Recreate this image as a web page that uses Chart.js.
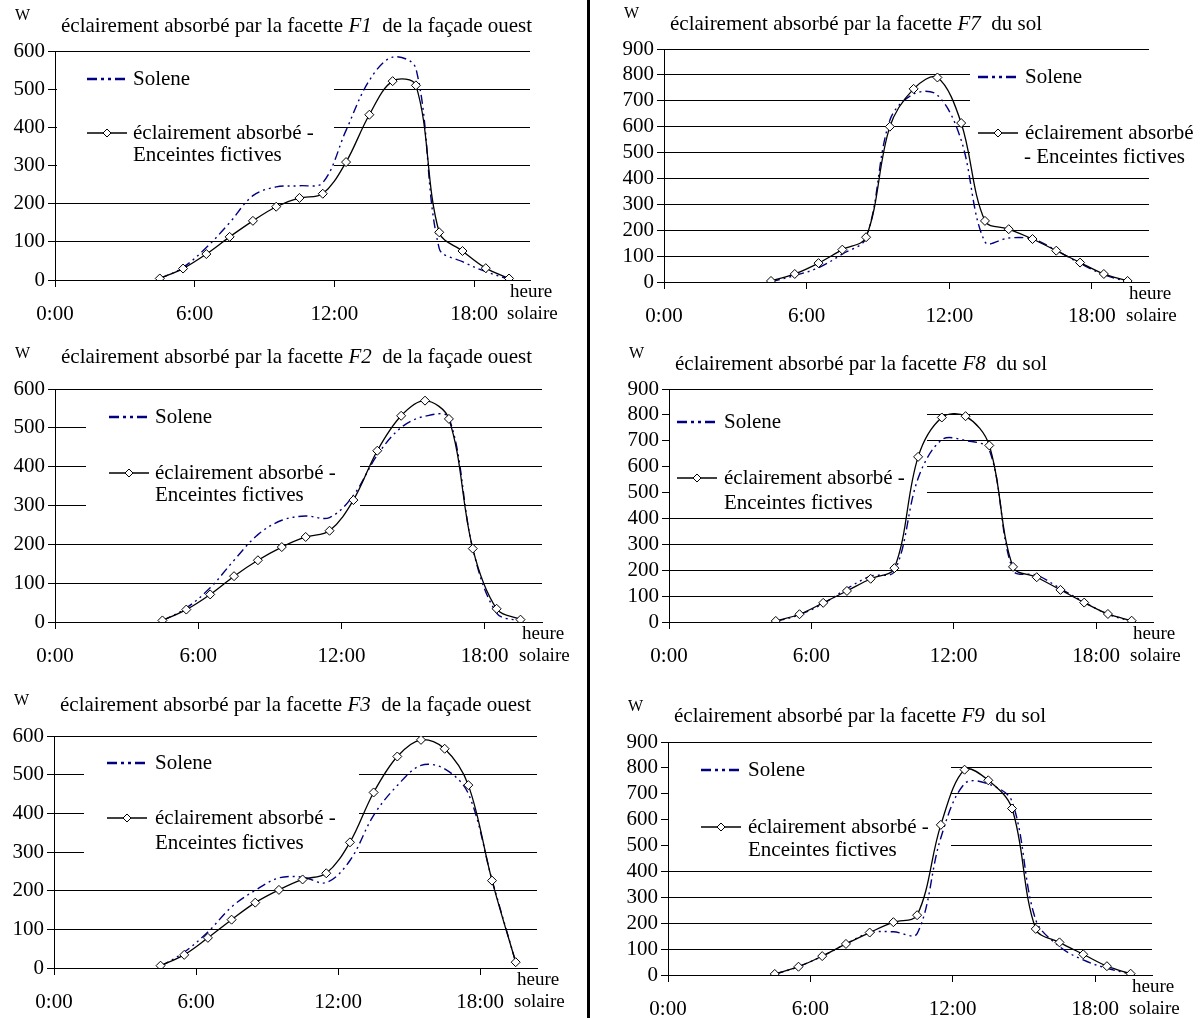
<!DOCTYPE html>
<html>
<head>
<meta charset="utf-8">
<script src="https://cdn.jsdelivr.net/npm/chart.js@4.4.0/dist/chart.umd.min.js"></script>
<style>
  body { margin: 0; background: #fff; width: 1204px; height: 1018px; overflow: hidden; position: relative; }
  canvas { position: absolute; }
  #separateur { position: absolute; left: 587px; top: 0; width: 3px; height: 1018px; background: #000; }
</style>
</head>
<body>
<canvas id="c1"></canvas>
<canvas id="c2"></canvas>
<canvas id="c3"></canvas>
<canvas id="c7"></canvas>
<canvas id="c8"></canvas>
<canvas id="c9"></canvas>
<div id="separateur"></div>
<script>
// heures solaires des points de calcul
const heures = [4.5, 5.5, 6.5, 7.5, 8.5, 9.5, 10.5, 11.5, 12.5, 13.5, 14.5, 15.5, 16.5, 17.5, 18.5, 19.5];
const xTicks = [0, 6, 12, 18];
const xTickLabels = ['0:00', '6:00', '12:00', '18:00'];

// facade ouest
const f1Enceintes = [4, 30, 68, 113, 155, 192, 215, 226, 309, 433, 521, 510, 125, 76, 31, 4];
const f1Solene    = [3, 33, 85, 150, 221, 244, 247, 255, 392, 523, 584, 554, 83, 48, 22, 2];
const f2Enceintes = [4, 32, 71, 118, 159, 193, 219, 235, 314, 441, 531, 570, 523, 189, 34, 6];
const f2Solene    = [3, 36, 88, 159, 225, 262, 273, 269, 326, 430, 501, 530, 526, 189, 23, 2];
const f3Enceintes = [6, 34, 78, 125, 169, 202, 229, 245, 325, 454, 547, 590, 567, 473, 226, 15];
const f3Solene    = [4, 41, 93, 158, 201, 233, 235, 221, 278, 395, 472, 524, 515, 451, 228, 15];

// sol
const f7Enceintes = [4, 31, 73, 125, 173, 600, 746, 790, 614, 236, 204, 166, 121, 75, 31, 4];
const f7Solene    = [1, 25, 55, 108, 170, 625, 726, 722, 548, 155, 170, 166, 122, 72, 28, 1];
const f8Enceintes = [4, 30, 74, 120, 167, 208, 638, 790, 795, 682, 213, 173, 124, 75, 31, 5];
const f8Solene    = [2, 28, 71, 129, 177, 195, 555, 704, 701, 665, 200, 181, 129, 77, 30, 2];
const f9Enceintes = [4, 32, 73, 120, 164, 204, 231, 580, 793, 752, 643, 178, 126, 80, 34, 5];
const f9Solene    = [3, 32, 73, 120, 163, 167, 160, 530, 739, 738, 670, 213, 110, 58, 26, 4];

const SERIF = '"Liberation Serif", "Times New Roman", serif';
const BLEU = '#000080';
const TIRET = [9, 4, 2, 4, 2, 4];

// mise en page (coordonnees page)
const panels = [
  { id: 'c1', left: 0, top: 0, w: 586, h: 338, facette: 'F1', suite: '  de la façade ouest', ymax: 600,
    enceintes: f1Enceintes, solene: f1Solene,
    axisX: 55, rightX: 530, topY: 51, zeroY: 280, titleDy: -25,
    box: [57, 62, 334, 176], sx: 87, tx: 133, ly: [79, 133, 155],
    labels: ['éclairement absorbé -', 'Enceintes fictives'], l2x: 133 },
  { id: 'c2', left: 0, top: 338, w: 586, h: 345, facette: 'F2', suite: '  de la façade ouest', ymax: 600,
    enceintes: f2Enceintes, solene: f2Solene,
    axisX: 55, rightX: 542, topY: 389, zeroY: 622, titleDy: -32,
    box: [86, 400, 360, 528], sx: 109, tx: 155, ly: [417, 473, 495],
    labels: ['éclairement absorbé -', 'Enceintes fictives'], l2x: 155 },
  { id: 'c3', left: 0, top: 683, w: 586, h: 335, facette: 'F3', suite: '  de la façade ouest', ymax: 600,
    enceintes: f3Enceintes, solene: f3Solene,
    axisX: 54, rightX: 537, topY: 736, zeroY: 968, titleDy: -31,
    box: [84, 752, 359, 870], sx: 107, tx: 155, ly: [763, 818, 843],
    labels: ['éclairement absorbé -', 'Enceintes fictives'], l2x: 155 },
  { id: 'c7', left: 592, top: 0, w: 612, h: 338, facette: 'F7', suite: '  du sol', ymax: 900,
    enceintes: f7Enceintes, solene: f7Solene,
    axisX: 664, rightX: 1149, topY: 49, zeroY: 282, titleDy: -25,
    box: [970, 62, 1204, 168], sx: 978, tx: 1025, ly: [77, 133, 157],
    labels: ['éclairement absorbé', '- Enceintes fictives'], l2x: 1024 },
  { id: 'c8', left: 592, top: 338, w: 612, h: 345, facette: 'F8', suite: '  du sol', ymax: 900,
    enceintes: f8Enceintes, solene: f8Solene,
    axisX: 669, rightX: 1153, topY: 389, zeroY: 622, titleDy: -25,
    box: [670, 402, 927, 508], sx: 677, tx: 724, ly: [422, 478, 503],
    labels: ['éclairement absorbé -', 'Enceintes fictives'], l2x: 724 },
  { id: 'c9', left: 592, top: 683, w: 612, h: 335, facette: 'F9', suite: '  du sol', ymax: 900,
    enceintes: f9Enceintes, solene: f9Solene,
    axisX: 668, rightX: 1152, topY: 742, zeroY: 975, titleDy: -26,
    box: [669, 755, 951, 858], sx: 701, tx: 748, ly: [770, 827, 850],
    labels: ['éclairement absorbé -', 'Enceintes fictives'], l2x: 748 }
];

function habillage(p) {
  const X = v => v - p.left;
  const Y = v => v - p.top;
  return {
    id: 'habillage_' + p.id,
    beforeDatasetsDraw(chart) {
      const ctx = chart.ctx;
      ctx.save();
      // fond blanc de la legende (coupe le quadrillage)
      ctx.fillStyle = '#fff';
      ctx.fillRect(X(p.box[0]), Y(p.box[1]), p.box[2] - p.box[0], p.box[3] - p.box[1]);
      ctx.font = '21px ' + SERIF;
      ctx.fillStyle = '#000';
      ctx.textBaseline = 'middle';
      // Solene
      ctx.strokeStyle = BLEU;
      ctx.lineWidth = 2.5;
      ctx.setLineDash([10, 4, 3, 4, 3, 4]);
      ctx.beginPath();
      ctx.moveTo(X(p.sx), Y(p.ly[0]));
      ctx.lineTo(X(p.sx + 40), Y(p.ly[0]));
      ctx.stroke();
      ctx.setLineDash([]);
      ctx.fillText('Solene', X(p.tx), Y(p.ly[0]));
      // enceintes fictives
      ctx.strokeStyle = '#000';
      ctx.lineWidth = 1.3;
      ctx.beginPath();
      ctx.moveTo(X(p.sx), Y(p.ly[1]));
      ctx.lineTo(X(p.sx + 40), Y(p.ly[1]));
      ctx.stroke();
      const cx = X(p.sx + 20), cy = Y(p.ly[1]);
      ctx.beginPath();
      ctx.moveTo(cx, cy - 4); ctx.lineTo(cx + 4, cy); ctx.lineTo(cx, cy + 4); ctx.lineTo(cx - 4, cy); ctx.closePath();
      ctx.fillStyle = '#fff';
      ctx.fill();
      ctx.lineWidth = 1;
      ctx.stroke();
      ctx.fillStyle = '#000';
      ctx.fillText(p.labels[0], X(p.tx), Y(p.ly[1]));
      ctx.fillText(p.labels[1], X(p.l2x), Y(p.ly[2]));
      ctx.restore();
    },
    afterDraw(chart) {
      const ctx = chart.ctx;
      ctx.save();
      ctx.fillStyle = '#000';
      ctx.textBaseline = 'middle';
      // unite
      ctx.font = '16px ' + SERIF;
      ctx.fillText('W', X(p.axisX - 40), Y(p.topY - 35));
      // titre
      let x = X(p.axisX + 6);
      const y = Y(p.topY + p.titleDy);
      ctx.font = '21px ' + SERIF;
      const debut = 'éclairement absorbé par la facette ';
      ctx.fillText(debut, x, y);
      x += ctx.measureText(debut).width;
      ctx.font = 'italic 21px ' + SERIF;
      ctx.fillText(p.facette, x, y);
      x += ctx.measureText(p.facette).width;
      ctx.font = '21px ' + SERIF;
      ctx.fillText(p.suite, x, y);
      // titre axe x
      ctx.font = '19px ' + SERIF;
      ctx.fillText('heure', X(p.rightX - 20), Y(p.zeroY + 12));
      ctx.fillText('solaire', X(p.rightX - 23), Y(p.zeroY + 34));
      ctx.restore();
    }
  };
}

panels.forEach(p => {
  const canvas = document.getElementById(p.id);
  canvas.width = p.w;
  canvas.height = p.h;
  canvas.style.left = p.left + 'px';
  canvas.style.top = p.top + 'px';

  new Chart(canvas.getContext('2d'), {
    type: 'line',
    data: {
      datasets: [
        {
          label: 'éclairement absorbé - Enceintes fictives',
          data: heures.map((h, i) => ({ x: h, y: p.enceintes[i] })),
          borderColor: '#000',
          borderWidth: 1.3,
          pointStyle: 'rectRot',
          pointRadius: 4.5,
          pointBorderWidth: 1,
          pointBorderColor: '#000',
          pointBackgroundColor: '#fff',
          tension: 0.35
        },
        {
          label: 'Solene',
          data: heures.map((h, i) => ({ x: h, y: p.solene[i] })),
          borderColor: BLEU,
          borderWidth: 1.4,
          borderDash: TIRET,
          pointRadius: 0,
          tension: 0.35
        }
      ]
    },
    options: {
      responsive: false,
      animation: false,
      layout: {
        padding: { left: 0, top: p.topY - p.top, right: p.left + p.w - p.rightX, bottom: 0 }
      },
      plugins: { legend: { display: false }, tooltip: { enabled: false } },
      scales: {
        x: {
          type: 'linear',
          min: 0,
          max: 20.4,
          afterBuildTicks: axis => { axis.ticks = xTicks.map(v => ({ value: v })); },
          afterFit: scale => { scale.height = p.top + p.h - p.zeroY; },
          ticks: {
            callback: (v, i) => xTickLabels[i],
            color: '#000',
            padding: 15,
            maxRotation: 0,
            autoSkip: false,
            font: { family: SERIF, size: 21 }
          },
          grid: { drawOnChartArea: false, drawTicks: true, tickLength: 7, color: '#000' },
          border: { display: true, color: '#000', width: 1 }
        },
        y: {
          min: 0,
          max: p.ymax,
          afterFit: scale => { scale.width = p.axisX - p.left; },
          ticks: {
            stepSize: 100,
            autoSkip: false,
            color: '#000',
            padding: 3,
            font: { family: SERIF, size: 21 }
          },
          grid: { drawOnChartArea: true, drawTicks: true, tickLength: 7, color: '#000', lineWidth: 1 },
          border: { display: true, color: '#000', width: 1 }
        }
      }
    },
    plugins: [habillage(p)]
  });
});
</script>
</body>
</html>
